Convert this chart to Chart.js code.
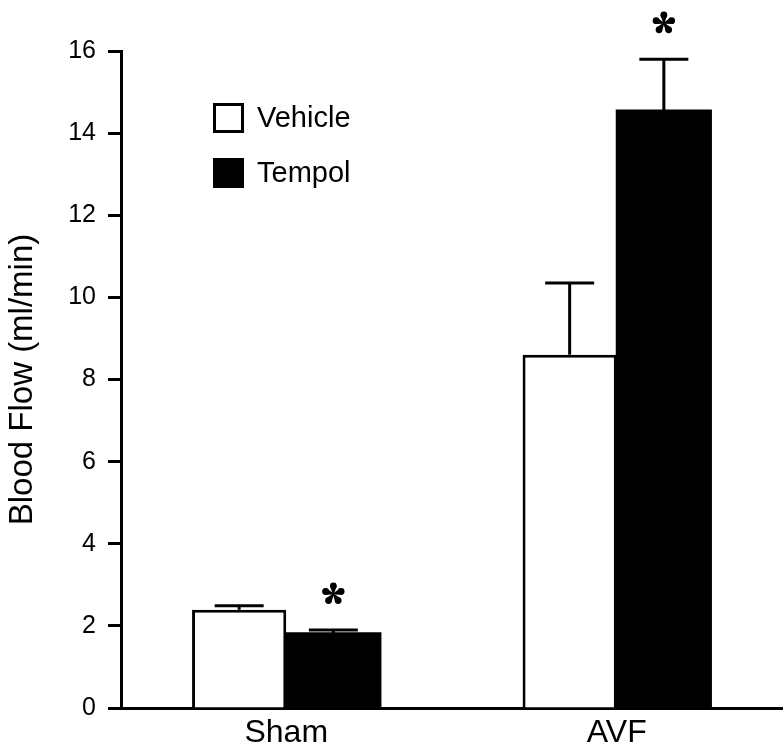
<!DOCTYPE html>
<html>
<head>
<meta charset="utf-8">
<script src="https://cdn.jsdelivr.net/npm/chart.js@4.4.1/dist/chart.umd.min.js"></script>
<style>
  html, body { margin: 0; padding: 0; background: #fff; }
  canvas { display: block; }
</style>
</head>
<body>
<canvas id="flowChart" width="783" height="756"></canvas>
<script>
// -------------------- DATA --------------------
const groups = ["Sham", "AVF"];
const vehicleFlow = [2.39, 8.60];
const vehicleErr = [0.10, 1.75];
const tempolFlow = [1.82, 14.55];
const tempolErr = [0.08, 1.25];
const tempolSig = [true, true];   // asterisk above Tempol bars
const yTicks = [0, 2, 4, 6, 8, 10, 12, 14, 16];

Chart.defaults.font.family = "'Liberation Sans', Arial, sans-serif";
Chart.defaults.color = "#000";

// -------------------- ERROR BARS + ASTERISKS --------------------
const errorBars = {
  id: "errorBars",
  afterDatasetsDraw(chart) {
    const ctx = chart.ctx;
    const y = chart.scales.y;
    const errs = [vehicleErr, tempolErr];
    ctx.save();
    ctx.strokeStyle = "#000";
    ctx.lineWidth = 3;
    chart.data.datasets.forEach((ds, di) => {
      const meta = chart.getDatasetMeta(di);
      meta.data.forEach((bar, i) => {
        const top = y.getPixelForValue(ds.data[i]);
        const errTop = y.getPixelForValue(ds.data[i] + errs[di][i]);
        ctx.beginPath();
        ctx.moveTo(bar.x, top);
        ctx.lineTo(bar.x, errTop);
        ctx.moveTo(bar.x - 24.5, errTop);
        ctx.lineTo(bar.x + 24.5, errTop);
        ctx.stroke();
        if (di === 1 && tempolSig[i]) drawStar(ctx, bar.x, errTop - 36);
      });
    });
    ctx.restore();
  }
};

// five teardrop lobes
function drawStar(ctx, cx, cy) {
  ctx.fillStyle = "#000";
  for (let k = 0; k < 5; k++) {
    const a = -Math.PI / 2 + k * 2 * Math.PI / 5;
    const d = 8.2, r = 3.4;
    const ex = cx + Math.cos(a) * d, ey = cy + Math.sin(a) * d;
    const px = -Math.sin(a), py = Math.cos(a);
    ctx.beginPath();
    ctx.moveTo(cx + px * 0.6, cy + py * 0.6);
    ctx.lineTo(ex + px * r, ey + py * r);
    ctx.lineTo(ex - px * r, ey - py * r);
    ctx.lineTo(cx - px * 0.6, cy - py * 0.6);
    ctx.closePath();
    ctx.fill();
    ctx.beginPath();
    ctx.arc(ex, ey, r, 0, Math.PI * 2);
    ctx.fill();
  }
}

// -------------------- LEGEND --------------------
const boxLegend = {
  id: "boxLegend",
  afterDraw(chart) {
    const ctx = chart.ctx;
    const rows = [103, 158];
    ctx.save();
    ctx.font = "29px 'Liberation Sans', Arial, sans-serif";
    ctx.textBaseline = "middle";
    chart.data.datasets.forEach((ds, i) => {
      const top = rows[i];
      ctx.fillStyle = ds.backgroundColor;
      ctx.fillRect(213, top, 31, 30);
      ctx.strokeStyle = "#000";
      ctx.lineWidth = 3;
      ctx.strokeRect(214.5, top + 1.5, 28, 27);
      ctx.fillStyle = "#000";
      ctx.fillText(ds.label, 257, top + 16);
    });
    ctx.restore();
  }
};

// -------------------- CHART --------------------
new Chart(document.getElementById("flowChart"), {
  type: "bar",
  data: {
    labels: groups,
    datasets: [
      { label: "Vehicle", data: vehicleFlow, backgroundColor: "#fff", borderColor: "#000", borderWidth: 3 },
      { label: "Tempol", data: tempolFlow, backgroundColor: "#000", borderColor: "#000", borderWidth: 0, inflateAmount: 1 }
    ]
  },
  options: {
    responsive: false,
    animation: false,
    devicePixelRatio: 1,
    layout: { padding: { top: 51, right: 1, bottom: 0, left: 0 } },
    datasets: { bar: { categoryPercentage: 0.57, barPercentage: 1.0 } },
    plugins: { legend: { display: false }, tooltip: { enabled: false } },
    scales: {
      x: {
        grid: { drawOnChartArea: false, drawTicks: false },
        border: { display: true, color: "#000", width: 3 },
        ticks: { font: { size: 32 }, padding: 6, color: "#000" },
        afterFit(s) { s.height = 48; }
      },
      y: {
        min: 0,
        max: 16,
        afterBuildTicks(s) { s.ticks = yTicks.map(v => ({ value: v })); },
        grid: { drawOnChartArea: false, drawTicks: true, tickLength: 13, tickWidth: 3, tickColor: "#000" },
        border: { display: true, color: "#000", width: 3 },
        ticks: { font: { size: 25 }, padding: 12, color: "#000" },
        title: { display: true, text: "Blood Flow (ml/min)", font: { size: 33 }, color: "#000", padding: { top: 3, bottom: 4 } },
        afterFit(s) { s.width = 121; }
      }
    }
  },
  plugins: [errorBars, boxLegend]
});
</script>
</body>
</html>
